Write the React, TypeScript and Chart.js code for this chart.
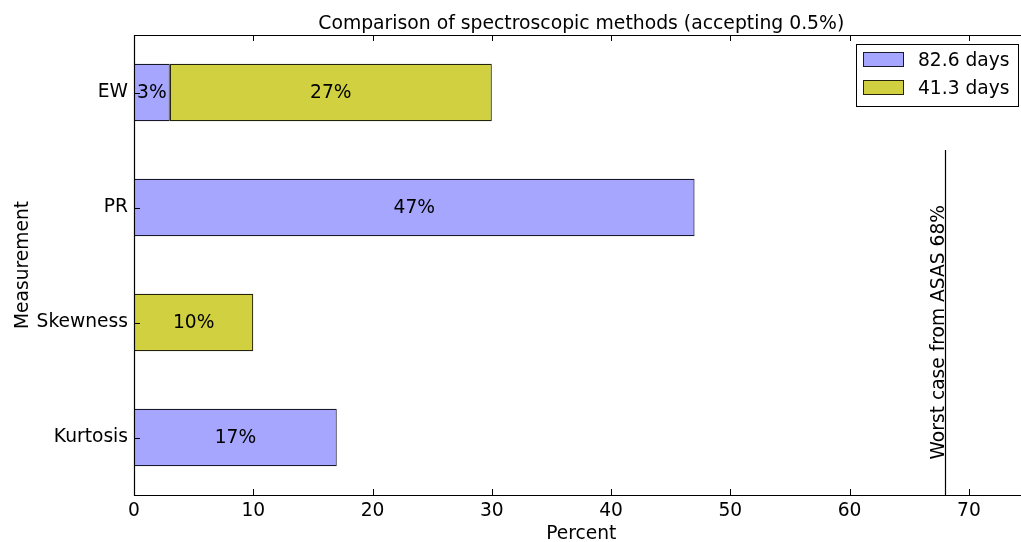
import React, { useEffect, useRef } from "react";
import { Chart, registerables } from "chart.js";

Chart.register(...registerables);

const categories = ["EW", "PR", "Skewness", "Kurtosis"];
const seriesLabels = ["82.6 days", "41.3 days"];
const values826: (number | null)[] = [3, 47, null, 17];
const values413: (number | null)[] = [27, null, 10, null];
const xTickValues = [0, 10, 20, 30, 40, 50, 60, 70];
const xMin = 0;
const xLimit = 75; // full axis limit (axes extend slightly past the image edge)
const xMaxVisible = 74.37;
const worstCaseValue = 68;
const worstCaseLabel = "Worst case from ASAS 68%";
const chartTitle = "Comparison of spectroscopic methods (accepting 0.5%)";
const xTitle = "Percent";
const yTitle = "Measurement";

const FONT = "'DejaVu Sans', 'Liberation Sans', sans-serif";
const FS = 18.67;
const BLUE = "rgb(166,166,255)";
const YELLOW = "rgb(208,208,64)";
const BLUE_EDGE = "rgb(25,25,45)";
const YELLOW_EDGE = "rgb(35,35,10)";

const decorPlugin = {
  id: "decor",
  afterDatasetsDraw(chart: any) {
    const ctx = chart.ctx;
    const { left, top, bottom } = chart.chartArea;
    const xs = chart.scales.x;
    const ys = chart.scales.y;
    ctx.save();
    // value labels inside bars
    ctx.font = `${FS}px ${FONT}`;
    ctx.fillStyle = "#000";
    ctx.textAlign = "center";
    ctx.textBaseline = "middle";
    chart.data.datasets.forEach((ds: any, di: number) => {
      const meta = chart.getDatasetMeta(di);
      meta.data.forEach((bar: any, i: number) => {
        const v = ds.data[i];
        if (v === null || v === undefined) return;
        const p = bar.getProps(["x", "y", "base"], true);
        ctx.fillText(`${v}%`, (p.x + p.base) / 2, p.y + 1);
      });
    });

    // title and x-axis title, centred on the full axes
    const cx = xs.getPixelForValue((xMin + xLimit) / 2);
    ctx.textBaseline = "alphabetic";
    ctx.font = `${18.8}px ${FONT}`;
    ctx.fillText(chartTitle, cx, 29);
    ctx.font = `${FS}px ${FONT}`;
    ctx.fillText(xTitle, cx, 539);

    // vertical worst case line
    const lx = Math.round(xs.getPixelForValue(worstCaseValue)) + 0.5;
    const ly0 = ys.getPixelForValue(0.5);
    ctx.strokeStyle = "#000";
    ctx.lineWidth = 1.2;
    ctx.beginPath();
    ctx.moveTo(lx, ly0);
    ctx.lineTo(lx, bottom);
    ctx.stroke();
    ctx.save();
    ctx.translate(lx - 2, ys.getPixelForValue(3) + 22);
    ctx.rotate(-Math.PI / 2);
    ctx.textAlign = "left";
    ctx.textBaseline = "alphabetic";
    ctx.font = `${FS}px ${FONT}`;
    ctx.fillText(worstCaseLabel, 0, 0);
    ctx.restore();

    // spines
    ctx.strokeStyle = "#000";
    ctx.lineWidth = 1.2;
    ctx.beginPath();
    ctx.moveTo(left + 0.5, top + 0.5);
    ctx.lineTo(chart.width + 2, top + 0.5);
    ctx.moveTo(left + 0.5, top);
    ctx.lineTo(left + 0.5, bottom + 0.5);
    ctx.lineTo(chart.width + 2, bottom + 0.5);
    ctx.stroke();

    // inward ticks
    ctx.lineWidth = 1;
    ctx.beginPath();
    xTickValues.forEach((v) => {
      const px = Math.round(xs.getPixelForValue(v)) + 0.5;
      ctx.moveTo(px, bottom);
      ctx.lineTo(px, bottom - 6);
      ctx.moveTo(px, top);
      ctx.lineTo(px, top + 6);
    });
    categories.forEach((_, i) => {
      const py = Math.round(ys.getPixelForValue(i)) + 0.5;
      ctx.moveTo(left, py);
      ctx.lineTo(left + 6, py);
    });
    ctx.stroke();

    // legend
    const bx = 856.5, by = 44.5, bw = 162, bh = 62;
    ctx.fillStyle = "#fff";
    ctx.fillRect(bx, by, bw, bh);
    ctx.strokeStyle = "#000";
    ctx.lineWidth = 1;
    ctx.strokeRect(bx, by, bw, bh);
    const fills = [BLUE, YELLOW];
    const edges = [BLUE_EDGE, YELLOW_EDGE];
    seriesLabels.forEach((lab, i) => {
      const cy = 60 + i * 28;
      ctx.fillStyle = fills[i];
      ctx.fillRect(863.5, cy - 7.5, 40, 14);
      ctx.strokeStyle = edges[i];
      ctx.strokeRect(863.5, cy - 7.5, 40, 14);
      ctx.fillStyle = "#000";
      ctx.font = `${FS}px ${FONT}`;
      ctx.textAlign = "left";
      ctx.textBaseline = "middle";
      ctx.fillText(lab, 918, cy + 1);
    });
    ctx.restore();
  },
};

export default function App() {
  const ref = useRef<HTMLCanvasElement | null>(null);
  useEffect(() => {
    document.body.style.margin = "0";
    const canvas = ref.current!;
    const chart = new Chart(canvas, {
      type: "bar",
      data: {
        labels: categories,
        datasets: [
          {
            label: seriesLabels[0],
            data: values826,
            backgroundColor: BLUE,
            borderColor: BLUE_EDGE,
            borderWidth: 1.2,
            borderSkipped: false,
          },
          {
            label: seriesLabels[1],
            data: values413,
            backgroundColor: YELLOW,
            borderColor: YELLOW_EDGE,
            borderWidth: 1.2,
            borderSkipped: false,
          },
        ],
      },
      options: {
        indexAxis: "y",
        responsive: false,
        animation: false,
        devicePixelRatio: 1,
        layout: { padding: { left: 0, right: 0, top: 35, bottom: 0 } },
        datasets: {
          bar: { barPercentage: 0.5, categoryPercentage: 1 },
        },
        plugins: {
          legend: { display: false },
          tooltip: { enabled: false },
          title: { display: false },
        },
        scales: {
          x: {
            type: "linear",
            stacked: true,
            min: xMin,
            max: xMaxVisible,
            border: { display: false },
            grid: { display: false, drawTicks: false, tickLength: 0 },
            ticks: {
              stepSize: 10,
              includeBounds: false,
              color: "#000",
              font: { family: FONT, size: FS },
              padding: 5,
              maxRotation: 0,
            },
            afterBuildTicks: (s: any) => {
              s.ticks = xTickValues.map((v) => ({ value: v }));
            },
            afterFit: (s: any) => {
              s.height = 47;
            },
            title: { display: false },
          },
          y: {
            type: "category",
            stacked: true,
            offset: true,
            border: { display: false },
            grid: { display: false, drawTicks: false, tickLength: 0 },
            ticks: {
              color: "#000",
              font: { family: FONT, size: FS },
              padding: 6,
            },
            afterFit: (s: any) => {
              s.width = 134;
            },
            title: {
              display: true,
              text: yTitle,
              color: "#000",
              font: { family: FONT, size: FS, lineHeight: 1.2 },
              padding: { top: 12, bottom: 0 },
            },
          },
        },
      },
      plugins: [decorPlugin],
    } as any);
    return () => chart.destroy();
  }, []);
  return <canvas ref={ref} width={1021} height={542} style={{ display: "block" }} />;
}
